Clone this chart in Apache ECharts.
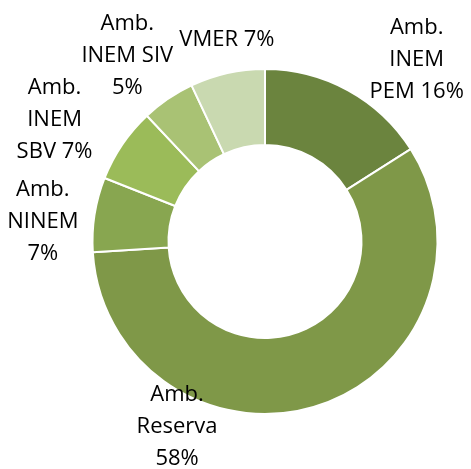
<!DOCTYPE html>
<html>
<head>
<meta charset="utf-8">
<script src="https://cdn.jsdelivr.net/npm/echarts@6/dist/echarts.min.js"></script>
<style>
  html, body { margin: 0; padding: 0; background: #ffffff; }
  #chart { width: 471px; height: 469px; }
</style>
</head>
<body>
<div id="chart"></div>
<script>
// Category names (line breaks as they wrap in the labels)
const categories = [
  'Amb.\nINEM\nPEM',
  'Amb.\nReserva',
  'Amb.\nNINEM',
  'Amb.\nINEM\nSBV',
  'Amb.\nINEM SIV',
  'VMER'
];
// Share of each category (%)
const shares = [16, 58, 7, 7, 5, 7];
// Slice colours, olive green shades
const sliceColors = ['#6b843e', '#7f9848', '#88a650', '#9bbb59', '#a9c274', '#c9d9b0'];

// Label placement: distance from the centre and turn (deg) relative to each slice's mid angle
const labelDistance = [237, 205, 223, 243, 231, 205];
const labelTurn = [11, 43.4, -4, -4.2, -2.4, 1.9];

const CX = 265, CY = 241.5;
const total = shares.reduce((a, b) => a + b, 0);
const midAngles = [];
let acc = 0;
shares.forEach(v => { midAngles.push((acc + v / 2) / total * 360); acc += v; });

const chart = echarts.init(document.getElementById('chart'));
chart.setOption({
  animation: false,
  series: [{
    type: 'pie',
    center: [CX, CY],
    radius: [96.5, 172.5],
    startAngle: 90,
    clockwise: true,
    data: categories.map((name, i) => ({
      name: name,
      value: shares[i],
      itemStyle: { color: sliceColors[i] }
    })),
    itemStyle: { borderColor: '#ffffff', borderWidth: 2 },
    label: {
      show: true,
      position: 'outside',
      overflow: 'none',
      fontFamily: '"Open Sans", sans-serif',
      fontSize: 22,
      lineHeight: 32,
      color: '#000000',
      formatter: function (p) {
        const lines = p.name.split('\n').length;
        const sep = (lines === 2) ? '\n' : ' ';
        return p.name + sep + Math.round(p.percent) + '%';
      }
    },
    labelLine: { show: false },
    labelLayout: function (params) {
      const i = params.dataIndex;
      const a = (midAngles[i] + labelTurn[i]) * Math.PI / 180;
      const r = labelDistance[i];
      return {
        x: CX + r * Math.sin(a),
        y: CY - r * Math.cos(a),
        align: 'center',
        verticalAlign: 'middle',
        width: 200
      };
    },
    emphasis: { disabled: true }
  }]
});
</script>
</body>
</html>
